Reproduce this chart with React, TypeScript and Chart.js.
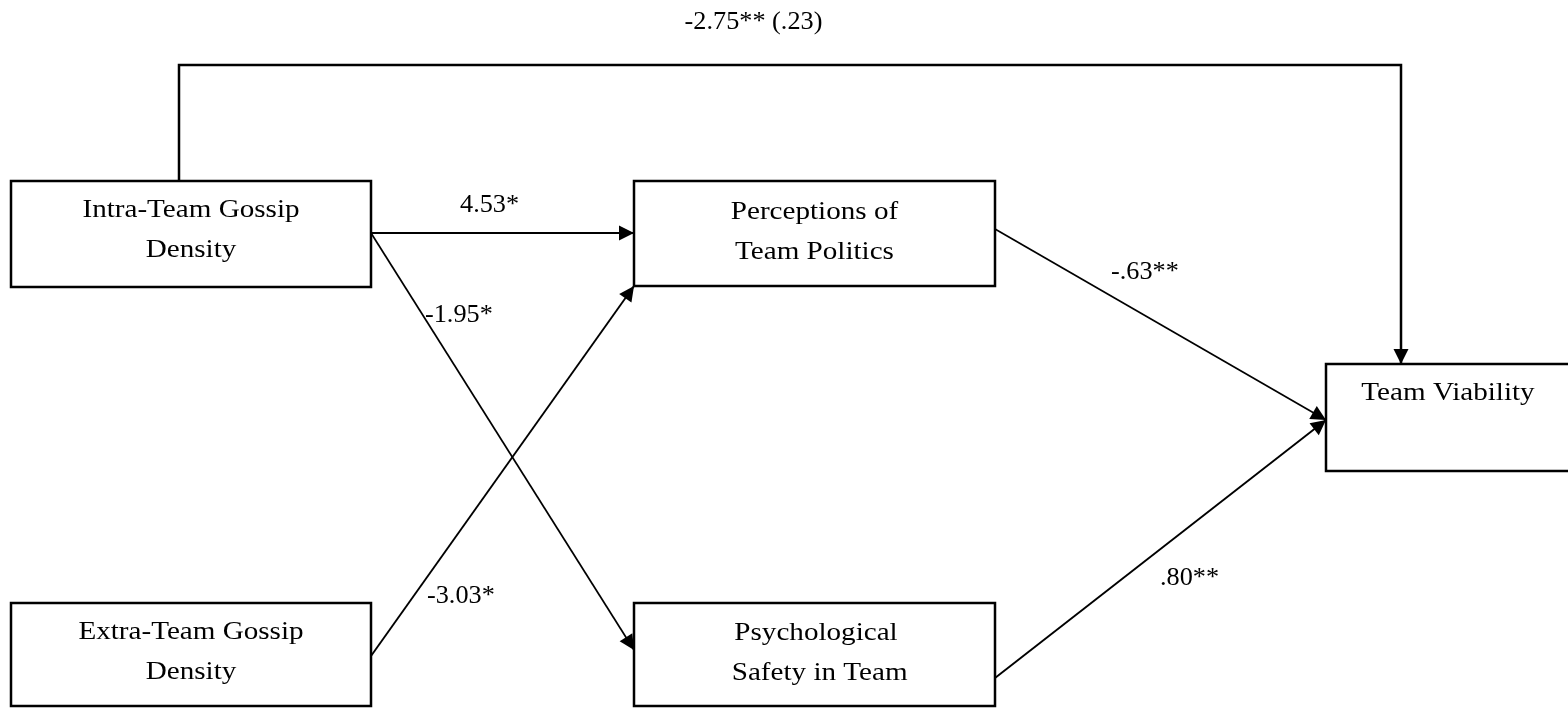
import React, { useEffect, useRef } from "react";
import { Chart, registerables } from "chart.js";

Chart.register(...registerables);

const W = 1568;
const H = 708;

// Nodes (diagram coordinates: x 0..1568, y 0..708 from top)
const nodeLines: string[][] = [
  ["Intra-Team Gossip", "Density"],
  ["Extra-Team Gossip", "Density"],
  ["Perceptions of", "Team Politics"],
  ["Psychological", " Safety in Team"],
  ["Team Viability"],
];
const nodeLeft = [11, 11, 634, 634, 1326];
const nodeRight = [371, 371, 995, 995, 1580];
const nodeTop = [181, 603, 181, 603, 364];
const nodeBottom = [287, 706, 286, 706, 471];
const nodeTextX = [191, 191, 814.5, 816, 1448];
const nodeTextBaseline = [217, 639, 219, 640, 400];

// Paths (polylines ending with an arrowhead)
const pathX: number[][] = [
  [179, 179, 1401, 1401],
  [371, 634],
  [371, 634],
  [371, 634],
  [995, 1326],
  [995, 1326],
];
const pathY: number[][] = [
  [181, 65, 65, 364],
  [233, 233],
  [233, 650],
  [656, 286],
  [229, 420],
  [678, 420],
];
const pathWidth = [2.5, 2.2, 1.7, 1.9, 1.7, 1.9];

// Path coefficients
const coefLabels = ["-2.75** (.23)", "4.53*", "-1.95*", "-3.03*", "-.63**", ".80**"];
const coefX = [753.5, 460, 425, 427, 1111, 1160];
const coefY = [29, 212, 322, 603, 279, 585];
const coefAlign: CanvasTextAlign[] = ["center", "left", "left", "left", "left", "left"];

const FONT = '"Liberation Serif", "Times New Roman", serif';

const diagramPlugin = {
  id: "diagram",
  afterDatasetsDraw(chart: any) {
    const ctx: CanvasRenderingContext2D = chart.ctx;
    const xs = chart.scales.x;
    const ys = chart.scales.y;
    const px = (v: number) => xs.getPixelForValue(v);
    const py = (v: number) => ys.getPixelForValue(v);
    ctx.save();
    ctx.fillStyle = "#000";
    // arrowheads
    pathX.forEach((xsArr, i) => {
      const n = xsArr.length;
      const x1 = px(xsArr[n - 2]);
      const y1 = py(pathY[i][n - 2]);
      const x2 = px(xsArr[n - 1]);
      const y2 = py(pathY[i][n - 1]);
      const a = Math.atan2(y2 - y1, x2 - x1);
      const len = 15;
      const hw = 7.5;
      const bx = x2 - len * Math.cos(a);
      const by = y2 - len * Math.sin(a);
      ctx.beginPath();
      ctx.moveTo(x2, y2);
      ctx.lineTo(bx + hw * Math.sin(a), by - hw * Math.cos(a));
      ctx.lineTo(bx - hw * Math.sin(a), by + hw * Math.cos(a));
      ctx.closePath();
      ctx.fill();
    });
    // node labels
    ctx.textBaseline = "alphabetic";
    ctx.font = `26px ${FONT}`;
    nodeLines.forEach((lines, i) => {
      lines.forEach((t, j) => {
        ctx.save();
        ctx.translate(px(nodeTextX[i]), py(nodeTextBaseline[i] + j * 39.5));
        ctx.scale(1.12, 1);
        ctx.textAlign = "center";
        ctx.fillText(t, 0, 0);
        ctx.restore();
      });
    });
    // coefficient labels
    ctx.font = `25px ${FONT}`;
    coefLabels.forEach((t, i) => {
      ctx.save();
      ctx.translate(px(coefX[i]), py(coefY[i]));
      ctx.scale(1.05, 1);
      ctx.textAlign = coefAlign[i];
      ctx.fillText(t, 0, 0);
      ctx.restore();
    });
    ctx.restore();
  },
};

export default function App() {
  const ref = useRef<HTMLCanvasElement | null>(null);
  useEffect(() => {
    document.body.style.margin = "0";
    document.body.style.background = "#fff";
    if (!ref.current) return;
    const boxSets = nodeLeft.map((l, i) => ({
      label: nodeLines[i].join(" "),
      data: [
        { x: l, y: nodeTop[i] },
        { x: nodeRight[i], y: nodeTop[i] },
        { x: nodeRight[i], y: nodeBottom[i] },
        { x: l, y: nodeBottom[i] },
        { x: l, y: nodeTop[i] },
      ],
      showLine: true,
      borderColor: "#000",
      backgroundColor: "#000",
      borderWidth: 2.5,
      pointRadius: 0,
      tension: 0,
      fill: false,
      borderJoinStyle: "miter" as const,
      borderCapStyle: "square" as const,
      clip: false as any,
    }));
    const pathSets = pathX.map((xsArr, i) => ({
      label: coefLabels[i],
      data: xsArr.map((x, j) => ({ x, y: pathY[i][j] })),
      showLine: true,
      borderColor: "#000",
      backgroundColor: "#000",
      borderWidth: pathWidth[i],
      pointRadius: 0,
      tension: 0,
      fill: false,
      borderJoinStyle: "miter" as const,
      borderCapStyle: "butt" as const,
      clip: false as any,
    }));
    const chart = new Chart(ref.current, {
      type: "scatter",
      data: { datasets: [...boxSets, ...pathSets] as any },
      options: {
        animation: false,
        responsive: false,
        devicePixelRatio: 1,
        layout: { padding: 0 },
        events: [],
        plugins: { legend: { display: false }, tooltip: { enabled: false } },
        scales: {
          x: { type: "linear", min: 0, max: W, display: false },
          y: { type: "linear", min: 0, max: H, reverse: true, display: false },
        },
      },
      plugins: [diagramPlugin],
    });
    return () => chart.destroy();
  }, []);
  return (
    <canvas
      ref={ref}
      width={W}
      height={H}
      style={{ display: "block", width: W, height: H, background: "#fff" }}
    />
  );
}
